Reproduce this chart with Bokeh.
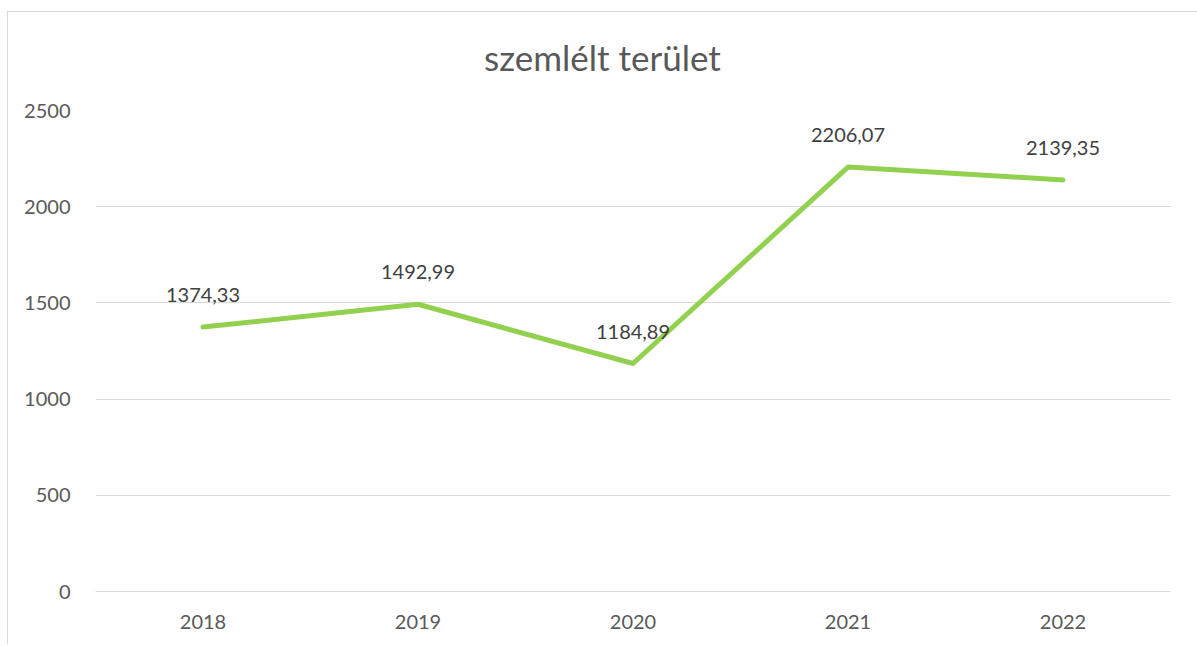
from bokeh.plotting import figure
from bokeh.models import ColumnDataSource, Range1d, FixedTicker, Div
from bokeh.layouts import column
from bokeh.core.properties import value
from bokeh.embed import file_html
from bokeh.resources import INLINE

years = ["2018", "2019", "2020", "2021", "2022"]
area = [1374.33, 1492.99, 1184.89, 2206.07, 2139.35]
labels = ["1374,33", "1492,99", "1184,89", "2206,07", "2139,35"]
y_ticks = [0, 500, 1000, 1500, 2000, 2500]
title_text = "szemlélt terület"

FONT = "Lato"
src = ColumnDataSource(dict(x=years, y=area, lab=labels))

title = Div(text=title_text, width=1189, height=74, margin=(0, 0, 0, 0),
            styles={"font-family": FONT, "font-size": "35px", "color": "#595959",
                    "text-align": "center", "line-height": "90px",
                    "background": "white", "width": "1189px"})

p = figure(x_range=years, y_range=Range1d(0, 2500), width=1189, height=558,
           output_backend="svg", toolbar_location=None,
           min_border_left=87, min_border_right=27, min_border_top=24,
           min_border_bottom=53)
p.margin = (0, 0, 0, 0)
p.outline_line_color = None
p.background_fill_color = "white"
p.border_fill_color = "white"

p.line("x", "y", source=src, line_color="#92D050", line_width=5,
       line_cap="round", line_join="round")
p.text("x", "y", text="lab", source=src, text_font=value(FONT),
       text_font_size="20px", text_color="#404040", text_align="center",
       text_baseline="middle", y_offset=-32)

p.xgrid.grid_line_color = None
p.ygrid.grid_line_color = "#d9d9d9"
p.ygrid.grid_line_width = 1
p.yaxis.ticker = FixedTicker(ticks=y_ticks)
p.yaxis.axis_line_color = None
p.yaxis.major_tick_line_color = None
p.yaxis.minor_tick_line_color = None
p.yaxis.major_label_standoff = 19
p.xaxis.axis_line_color = "#d9d9d9"
p.xaxis.major_tick_line_color = None
p.xaxis.major_label_standoff = 17
for ax in (p.xaxis[0], p.yaxis[0]):
    ax.major_label_text_font = FONT
    ax.major_label_text_font_size = "20px"
    ax.major_label_text_color = "#595959"
p.x_range.range_padding = 0

layout = column(title, p, spacing=0)
layout.margin = (11, 0, 0, 7)
layout.styles = {"border-left": "1px solid #d9d9d9", "border-top": "1px solid #d9d9d9",
                 "background": "white"}

open("out.html", "w").write(file_html(layout, INLINE))
